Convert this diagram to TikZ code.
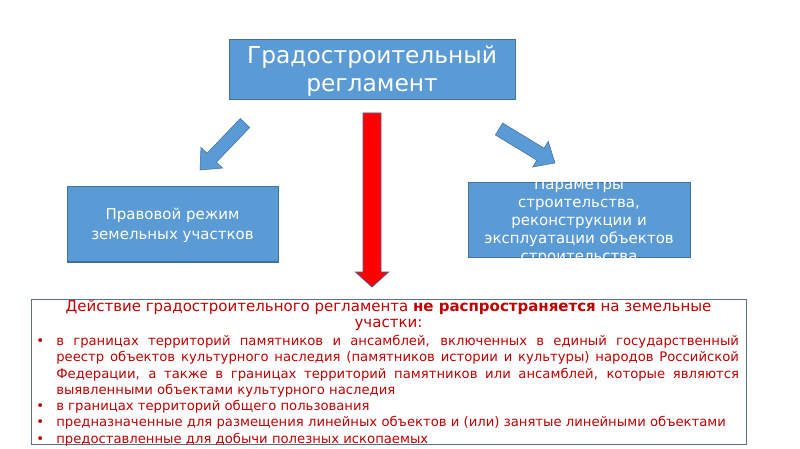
\documentclass[tikz,border=0pt]{standalone}
\usepackage{fontspec}
\setmainfont{DejaVu Sans}
\usetikzlibrary{calc}
\definecolor{boxblue}{HTML}{5B9BD5}
\definecolor{boxedge}{HTML}{41719C}
\definecolor{darkred}{HTML}{C00000}
\definecolor{frameedge}{HTML}{5A7086}
\definecolor{arrowedge}{HTML}{4F5B8C}
% #1 style, #2 tail, #3 tip, #4 shaft half width, #5 head half width, #6 head length
\newcommand\blockarrow[6]{%
  \path ($(#3)!#6!(#2)$) coordinate (hb);
  \draw[#1] ($(#2)!#4!90:(#3)$) -- ($(hb)!#4!90:(#3)$) -- ($(hb)!#5!90:(#3)$)
    -- (#3) -- ($(hb)!#5!-90:(#3)$) -- ($(hb)!#4!-90:(#3)$) -- ($(#2)!#4!-90:(#3)$) -- cycle;
}
\newcommand\itembullet{\leavevmode\llap{\textbullet\hspace{9pt}}}
\tikzset{
  bluebox/.style={fill=boxblue, draw=boxedge, line width=0.75pt, inner sep=0pt},
  boxtext/.style={text=white, align=center, inner sep=0pt},
  bluearrow/.style={fill=boxblue, draw=boxedge, line width=0.4pt},
  redarrow/.style={fill=red, draw=arrowedge, line width=0.6pt},
  rulesbox/.style={draw=frameedge, fill=white, line width=0.75pt, inner sep=0pt},
}
\begin{document}
\begin{tikzpicture}[x=0.75pt,y=0.75pt]
\fill[white] (0,0) rectangle (800,-449);
\useasboundingbox (0,0) rectangle (800,-449);

% top box
\node[bluebox, minimum width=214.5pt, minimum height=45pt] (reg) at (372,-70) {};
\node[boxtext, font=\fontsize{17.5}{21}\selectfont] (regtext) at (372,-71)
  {Градостроительный\\регламент};

% left box
\node[bluebox, minimum width=158.25pt, minimum height=56.25pt] (legal) at (172.5,-224.5) {};
\node[boxtext, font=\fontsize{11.25}{15}\selectfont] (legaltext) at (172.5,-225)
  {Правовой режим\\земельных участков};

% right box
\node[bluebox, minimum width=166.5pt, minimum height=56.25pt] (params) at (579,-220.5) {};
\node[boxtext, font=\fontsize{11.25}{13.5}\selectfont] (paramstext) at (579,-222)
  {Параметры\\строительства,\\реконструкции и\\эксплуатации объектов\\строительства};

% arrows
\coordinate (lT) at (245,-123);
\coordinate (lP) at (200,-170);
\blockarrow{bluearrow}{lT}{lP}{4.875pt}{11.25pt}{12.75pt}
\coordinate (rT) at (499,-129);
\coordinate (rP) at (555,-163);
\blockarrow{bluearrow}{rT}{rP}{5.25pt}{11.25pt}{12.75pt}
\coordinate (cT) at (372,-113);
\coordinate (cP) at (372,-287);
\blockarrow{redarrow}{cT}{cP}{6.75pt}{12.4pt}{11.25pt}

% bottom box
\node[rulesbox, minimum width=536.25pt, minimum height=108.75pt] (rules) at (388.5,-371.5) {};
\node[text=darkred, align=center, inner sep=0pt, font=\fontsize{11.25}{12}\selectfont] (rulestitle) at (388.5,-315)
  {Действие градостроительного регламента \textbf{не распространяется} на земельные\\участки:};
\node[text=darkred, align=justify, inner sep=0pt, anchor=north west, text width=512pt,
      font=\fontsize{9.9}{12.2}\selectfont] (ruleslist) at (56,-335)
  {\itembullet в границах территорий памятников и ансамблей, включенных в единый государственный\linebreak
   реестр объектов культурного наследия (памятников истории и культуры) народов Российской\linebreak
   Федерации, а также в границах территорий памятников или ансамблей, которые являются\linebreak
   выявленными объектами культурного наследия\par
   \itembullet в границах территорий общего пользования\par
   \itembullet предназначенные для размещения линейных объектов и (или) занятые линейными объектами\par
   \itembullet предоставленные для добычи полезных ископаемых\par};
\end{tikzpicture}
\end{document}
